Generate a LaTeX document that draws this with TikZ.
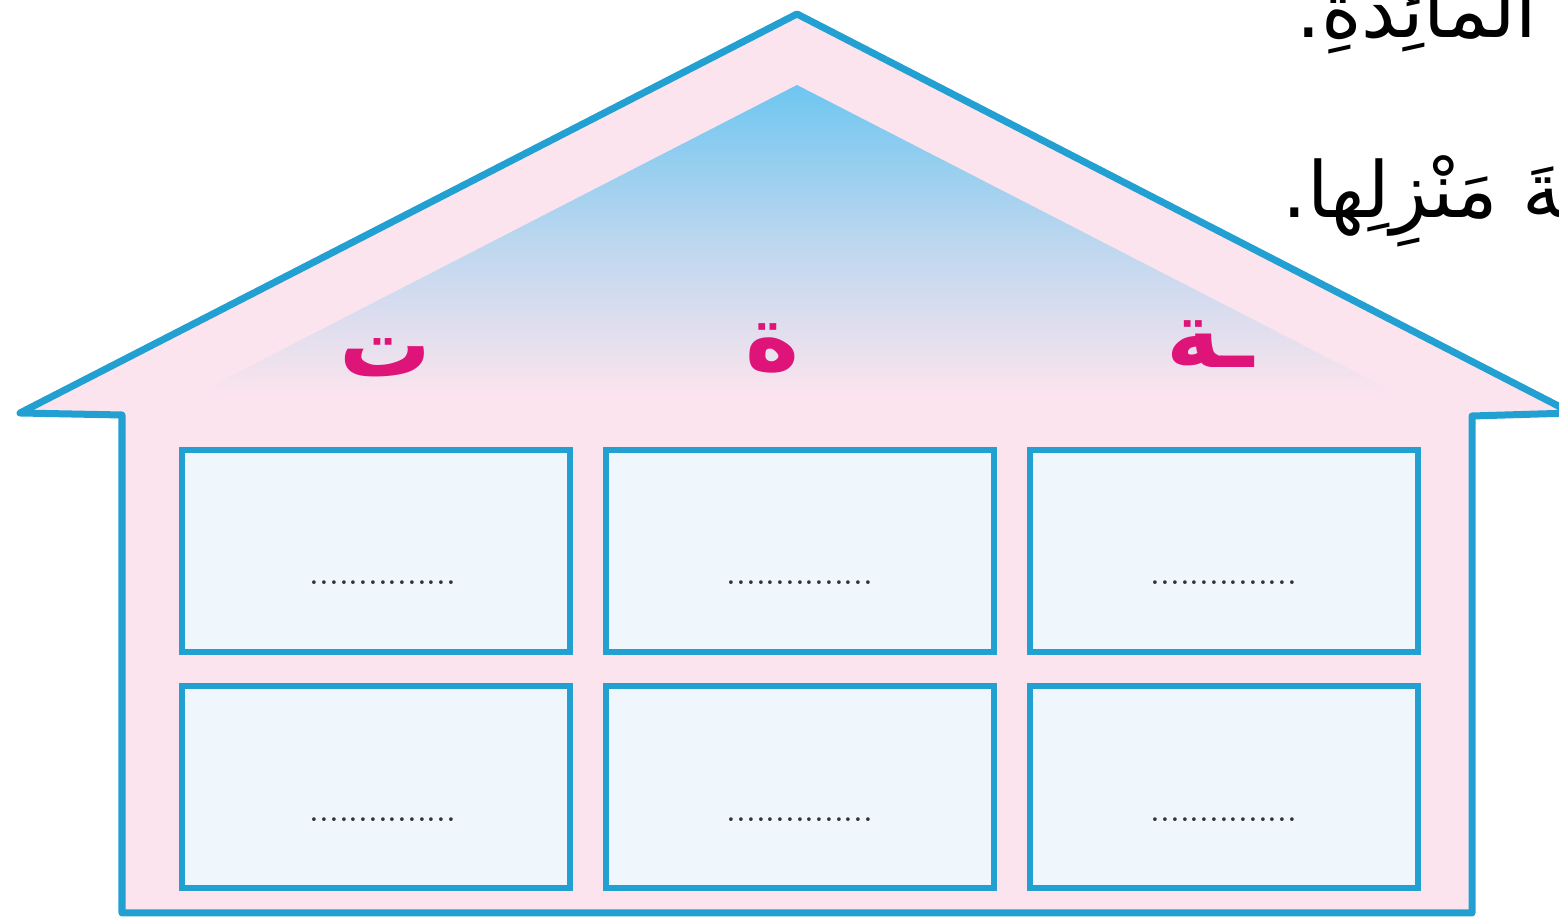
\documentclass[tikz,border=0pt]{standalone}
\usepackage{fontspec}
\newfontfamily\arabicfont[Script=Arabic]{DejaVu Sans}
\TeXXeTstate=1

\definecolor{houseblue}{RGB}{35,160,210}
\definecolor{housepink}{RGB}{252,228,238}
\definecolor{roofsky}{RGB}{110,198,240}
\definecolor{cellfill}{RGB}{240,247,252}
\definecolor{lettermag}{RGB}{222,20,120}

\tikzset{
  cell/.style={draw=houseblue, line width=0.065cm, fill=cellfill,
    minimum width=3.88cm, minimum height=2.02cm, inner sep=0pt},
  dotline/.style={text=black!80, font=\normalsize, inner sep=0pt},
  letter/.style={text=lettermag, inner sep=0pt,
    font=\arabicfont\bfseries\fontsize{26}{30}\selectfont},
  sentence/.style={anchor=base west, inner sep=0pt,
    font=\arabicfont\fontsize{22}{26}\selectfont}
}

\begin{document}
\begin{tikzpicture}[x=0.01cm, y=-0.01cm]
    \useasboundingbox (0,0) rectangle (1559,919);
    \clip (0,0) rectangle (1559,919);

    % House body and roof
    \fill[housepink] (20,413) -- (797,14) -- (1572,413) -- (1472,416)
        -- (1472,913) -- (122,913) -- (122,415) -- cycle;

    % Sky inside the roof
    \shade[top color=roofsky, bottom color=housepink, middle color=roofsky!45!housepink]
        (797,85) -- (1402,396) -- (192,396) -- cycle;

    % Outline of the house
    \draw[houseblue, line width=0.07cm, line join=round]
        (20,413) -- (797,14) -- (1572,413) -- (1472,416)
        -- (1472,913) -- (122,913) -- (122,415) -- cycle;

    % Letters under the roof
    \node[letter] (lteh) at (385,358) {\beginR ت\endR};
    \node[letter] (ltaa) at (772,348) {\beginR ة\endR};
    \node[letter] (ltaaf) at (1210,344) {\beginR ـة\endR};

    % Cells, top row
    \node[cell] (c11) at (376,551) {};
    \node[cell] (c12) at (800,551) {};
    \node[cell] (c13) at (1224,551) {};

    % Cells, bottom row
    \node[cell] (c21) at (376,787) {};
    \node[cell] (c22) at (800,787) {};
    \node[cell] (c23) at (1224,787) {};

    % Lines to write on
    \node[dotline] (d11) at ([xshift=0.07cm, yshift=-0.32cm]c11.center) {...............};
    \node[dotline] (d12) at ([yshift=-0.32cm]c12.center) {...............};
    \node[dotline] (d13) at ([yshift=-0.32cm]c13.center) {...............};
    \node[dotline] (d21) at ([xshift=0.07cm, yshift=-0.33cm]c21.center) {...............};
    \node[dotline] (d22) at ([yshift=-0.33cm]c22.center) {...............};
    \node[dotline] (d23) at ([yshift=-0.33cm]c23.center) {...............};

    % Text of the exercise, cut at the edge
    \node[sentence] (s1) at (1296,38) {\beginR عَلى المائِدَةِ.\endR};
    \node[sentence] (s2) at (1282,218) {\beginR حَديقَةَ مَنْزِلِها.\endR};
\end{tikzpicture}
\end{document}
